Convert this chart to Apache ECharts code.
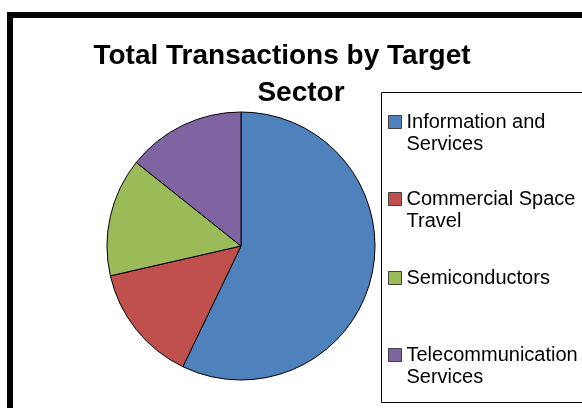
<!DOCTYPE html>
<html>
<head>
<meta charset="utf-8">
<script src="https://cdn.jsdelivr.net/npm/echarts@6/dist/echarts.min.js"></script>
<style>
  html, body { margin: 0; padding: 0; background: #fff; }
  #chart { width: 582px; height: 408px; }
</style>
</head>
<body>
<div id="chart"></div>
<script>
const titleLines = ['Total Transactions by Target', 'Sector'];
const categories = ['Information and\nServices', 'Commercial Space\nTravel', 'Semiconductors', 'Telecommunication\nServices'];
const values = [4, 1, 1, 1];
const colors = ['#4F81BD', '#C0504D', '#9BBB59', '#8064A2'];

const legendIconCenters = [122, 199, 278, 355];
const titleCenters = [[282, 56.5], [301, 93.5]];
const LH = 22;
const FONT = 'Liberation Sans, Arial, sans-serif';

const legends = categories.map((name, i) => {
  const lines = name.split('\n').length;
  const totalLines = lines > 1 ? 2 * lines - 1 : 1;
  return {
    data: [name],
    orient: 'vertical',
    left: 388,
    top: legendIconCenters[i] - totalLines * LH / 2,
    padding: 0,
    itemWidth: 13,
    itemHeight: 13,
    itemGap: 0,
    selectedMode: false,
    icon: 'rect',
    formatter: n => {
      const k = n.split('\n').length;
      return k > 1 ? '\n'.repeat(k - 1) + n : n;
    },
    itemStyle: { borderColor: '#404040', borderWidth: 1 },
    textStyle: { fontSize: 20, lineHeight: LH, fontFamily: FONT, color: '#000' }
  };
});

const titles = titleLines.map((t, i) => ({
  text: t,
  left: titleCenters[i][0],
  textAlign: 'center',
  top: titleCenters[i][1] - 14,
  padding: 0,
  textStyle: { fontSize: 28, fontWeight: 'bold', lineHeight: 28, fontFamily: FONT, color: '#000' }
}));

const chart = echarts.init(document.getElementById('chart'), null, { renderer: 'canvas' });
chart.setOption({
  animation: false,
  color: colors,
  title: titles,
  graphic: [
    { type: 'rect', shape: { x: 10, y: 15, width: 700, height: 500 }, style: { fill: 'none', stroke: '#000', lineWidth: 6 }, z: -1 },
    { type: 'rect', shape: { x: 381.5, y: 92.5, width: 300, height: 310 }, style: { fill: 'none', stroke: '#000', lineWidth: 1 }, z: -1 }
  ],
  legend: legends,
  series: [{
    type: 'pie',
    center: [241, 246],
    radius: 134,
    startAngle: 90,
    clockwise: true,
    label: { show: false },
    labelLine: { show: false },
    emphasis: { disabled: true },
    itemStyle: { borderColor: '#000', borderWidth: 1 },
    data: categories.map((c, i) => ({ name: c, value: values[i] }))
  }]
});
</script>
</body>
</html>
